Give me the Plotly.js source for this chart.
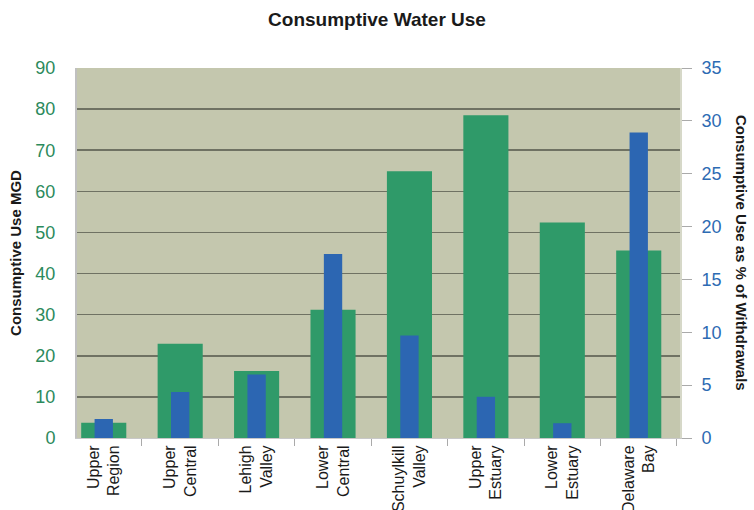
<!DOCTYPE html>
<html>
<head>
<meta charset="utf-8">
<script src="https://cdn.plot.ly/plotly-3.0.1.min.js"></script>
<style>html,body{margin:0;padding:0;background:#fff;}#chart{width:754px;height:510px;}</style>
</head>
<body>
<div id="chart"></div>
<script>
const categories = ["Upper<br>Region", "Upper<br>Central", "Lehigh<br>Valley", "Lower<br>Central",
  "Schuylkill<br>Valley", "Upper<br>Estuary", "Lower<br>Estuary", "Delaware<br>Bay"];
const useMGD = [3.7, 22.9, 16.3, 31.2, 64.9, 78.5, 52.4, 45.6];
const usePct = [1.8, 4.35, 6.0, 17.4, 9.7, 3.9, 1.4, 28.9];
const leftTicks = [0, 10, 20, 30, 40, 50, 60, 70, 80, 90];
const rightTicks = [0, 5, 10, 15, 20, 25, 30, 35];

const FONT = "'Liberation Sans Narrow', 'Liberation Sans', Arial, sans-serif";

const traces = [
  {type: 'bar', x: categories, y: useMGD, yaxis: 'y', width: 0.59,
   marker: {color: '#2F9A69'}, name: 'MGD', hoverinfo: 'x+y'},
  {type: 'bar', x: categories, y: usePct, yaxis: 'y2', width: 0.24,
   marker: {color: '#2C66B2'}, name: '%', hoverinfo: 'x+y'}
];

const layout = {
  width: 754, height: 510,
  margin: {l: 77, r: 74, t: 68, b: 72},
  paper_bgcolor: '#ffffff',
  plot_bgcolor: '#C4C7AE',
  barmode: 'overlay',
  showlegend: false,
  font: {family: FONT},
  title: {text: '<b>Consumptive Water Use</b>', x: 0.5, xanchor: 'center', y: 0.962, yanchor: 'middle',
          font: {family: FONT, size: 19, color: '#1a1a1a'}},
  xaxis: {
    type: 'category', range: [-0.35, 7.54], tickangle: -90, tickson: 'boundaries',
    ticks: 'outside', ticklen: 7, tickcolor: '#aaaaaa', showgrid: false,
    showline: true, linecolor: '#c8c8c8', linewidth: 1,
    tickfont: {family: FONT, size: 16, color: '#1a1a1a'}, fixedrange: true
  },
  yaxis: {
    range: [0, 90], tickvals: leftTicks, showgrid: true, gridcolor: '#6F7263', gridwidth: 1.5,
    zeroline: false, showline: true, linecolor: '#c0c0c0', linewidth: 2, ticks: '',
    ticklabelstandoff: 16,
    tickfont: {family: FONT, size: 18, color: '#2C8A5C'},
    title: {text: '<b>Consumptive Use MGD</b>', standoff: 10, font: {family: FONT, size: 15, color: '#1a1a1a'}}
  },
  yaxis2: {
    range: [0, 35], tickvals: rightTicks, overlaying: 'y', side: 'right', showgrid: false,
    zeroline: false, showline: true, linecolor: '#d6d8c8', linewidth: 2,
    ticks: 'outside', ticklen: 10, tickcolor: '#aaaaaa', ticklabelstandoff: 6,
    tickfont: {family: FONT, size: 18, color: '#2D6BB3'}
  },
  annotations: [{
    text: '<b>Consumptive Use as % of Withdrawals</b>', textangle: 90,
    xref: 'paper', yref: 'paper', x: 1.103, y: 0.5, xanchor: 'center', yanchor: 'middle',
    showarrow: false, font: {family: FONT, size: 15, color: '#1a1a1a'}
  }]
};

Plotly.newPlot('chart', traces, layout, {staticPlot: true});
</script>
</body>
</html>
